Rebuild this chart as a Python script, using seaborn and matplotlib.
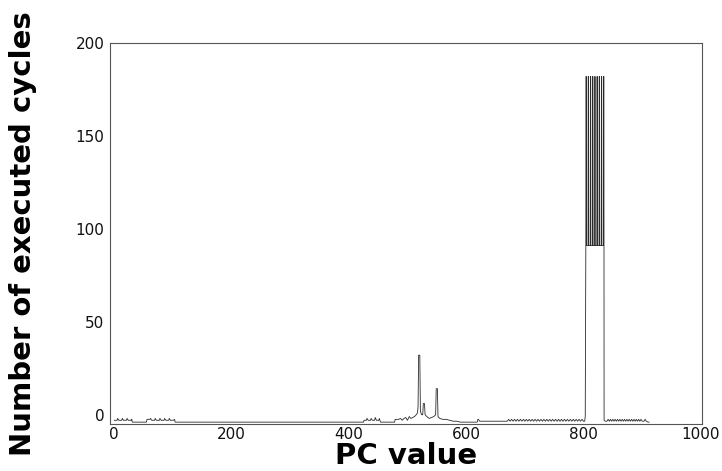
import matplotlib
matplotlib.use("Agg")
import matplotlib.pyplot as plt
import seaborn as sns
import pandas as pd

# ---- data (PC value -> executed cycles) ----
pc_a = [0, 5, 6, 8, 13, 14, 16, 21, 22, 24, 29, 30, 31, 54]
cy_a = [-3, -3, -2, -3, -3, -2, -3, -3, -2, -3, -3, -2.5, -4, -4]

pc_b = [55, 56, 61, 62, 64, 69, 70, 72, 77, 78, 80, 85, 86, 88, 93, 94, 96, 101, 103, 104, 424]
cy_b = [-4, -2.5, -2.5, -2, -3, -3, -2, -3, -3, -2, -3, -3, -2, -3, -3, -2, -3, -3, -2.5, -4, -4]

pc_c = [425, 426, 430, 431, 433, 437, 438, 440, 444, 445, 447, 451, 452, 454, 477]
cy_c = [-4, -3, -3, -2, -3, -3, -2, -3, -3, -1.5, -3, -3, -2, -4, -4]

pc_d = [478, 479, 485, 488, 491, 494, 497, 500, 503, 506, 509, 512, 515, 517, 518,
        519, 521, 522, 524, 526, 527, 529, 530, 533, 537, 541, 545, 548, 549, 551,
        552, 555, 560, 566, 572, 578, 584, 590, 618]
cy_d = [-4, -2.5, -2.5, -2, -3, -2, -1.5, -3, -1, -2, -1.5, -1, 0, 1, 4,
        32, 32, 2, 0, 0, 6, 6, 0, -1, -2, -1.5, -1, 0, 14, 14,
        -1, -2, -2.5, -2.5, -3, -3.5, -3.5, -4, -4]

pc_e = [619, 620, 621, 623, 625, 667]
cy_e = [-4, -2.5, -2.5, -3.5, -3.5, -3.5]

pc_f = [668, 670, 672.5, 675, 677.5, 680, 682.5, 685, 687.5, 690, 692.5, 695, 697.5,
        700, 702.5, 705, 707.5, 710, 712.5, 715, 717.5, 720, 722.5, 725, 727.5,
        730, 732.5, 735, 737.5, 740, 742.5, 745, 747.5, 750, 752.5, 755, 757.5,
        760, 762.5, 765, 767.5, 770, 772.5, 775, 777.5, 780, 782.5, 785, 787.5,
        790, 792.5, 795, 797.5, 800]
cy_f = [-3.5, -3.5, -2.5, -3.5, -2.5, -3.5, -2.5, -3.5, -2.5, -3.5, -2.5, -3.5, -2.5,
        -3.5, -2.5, -3.5, -2.5, -3.5, -2.5, -3.5, -2.5, -3.5, -2.5, -3.5, -2.5,
        -3.5, -2.5, -3.5, -2.5, -3.5, -2.5, -3.5, -2.5, -3.5, -2.5, -3.5, -2.5,
        -3.5, -2.5, -3.5, -2.5, -3.5, -2.5, -3.5, -2.5, -3.5, -2.5, -3.5, -2.5,
        -3.5, -2.5, -3.5, -2.5, -3.5]

# hot loop: counts jump between 91 and 182 cycles
pc_g = [802, 803,
        804, 804.3, 804.8, 805.1,
        807.75, 808.05, 808.55, 808.85,
        811.5, 811.8, 812.3, 812.6,
        815.25, 815.55, 816.05, 816.35,
        819, 819.3, 819.8, 820.1,
        822.75, 823.05, 823.55, 823.85,
        826.5, 826.8, 827.3, 827.6,
        830.25, 830.55, 831.05, 831.35,
        834, 834.3, 834.8, 835.1, 837]
cy_g = [-3.5, -1,
        91, 182, 182, 91,
        91, 182, 182, 91,
        91, 182, 182, 91,
        91, 182, 182, 91,
        91, 182, 182, 91,
        91, 182, 182, 91,
        91, 182, 182, 91,
        91, 182, 182, 91,
        91, 182, 182, -3, -3.5]

pc_h = [840, 842, 844, 846, 848, 850, 852, 854, 856, 858, 860, 862, 864, 866, 868,
        870, 872, 874, 876, 878, 880, 882, 884, 886, 888, 890, 892, 894, 896, 898,
        900, 903, 905, 907, 910, 912]
cy_h = [-3.5, -2.5, -3.5, -2.5, -3.5, -2.5, -3.5, -2.5, -3.5, -2.5, -3.5, -2.5, -3.5, -2.5, -3.5,
        -2.5, -3.5, -2.5, -3.5, -2.5, -3.5, -2.5, -3.5, -2.5, -3.5, -2.5, -3.5, -2.5, -3.5, -2.5,
        -3.5, -3.5, -2.5, -3.5, -4, -4]

x_ticks = [0, 200, 400, 600, 800, 1000]
y_ticks = [0, 50, 100, 150, 200]
x_label = "PC value"
y_label = "Number of executed cycles"

pc = pc_a + pc_b + pc_c + pc_d + pc_e + pc_f + pc_g + pc_h
cycles = cy_a + cy_b + cy_c + cy_d + cy_e + cy_f + cy_g + cy_h

sns.set_theme(style="white")
plt.rcParams['font.family'] = ['DejaVu Sans']
plt.rcParams['path.simplify'] = False

fig = plt.figure(figsize=(7.22, 4.71), dpi=100)
ax = fig.add_axes([0.1524, 0.0998, 0.8199, 0.8089])

df = pd.DataFrame({"pc": pc, "cycles": cycles})
sns.lineplot(data=df, x="pc", y="cycles", ax=ax, estimator=None, sort=False,
             color="#2a2a2a", linewidth=0.6)

ax.set_xlim(-7, 1002)
ax.set_ylim(-5, 200)
ax.set_xticks(x_ticks)
ax.set_yticks(y_ticks)
ax.tick_params(direction="in", length=3, width=0.6, color="#777777",
               labelsize=11, labelcolor="#111111")
ax.tick_params(axis="x", pad=2)
ax.tick_params(axis="y", pad=4)
for s in ax.spines.values():
    s.set_color("#555555")
    s.set_linewidth(0.8)

ax.set_xlabel(x_label, fontsize=21, fontweight="bold", labelpad=0, color="black")
ax.set_ylabel(y_label, fontsize=21, fontweight="bold", labelpad=28, color="black")

fig.savefig("out.png", dpi=100)
